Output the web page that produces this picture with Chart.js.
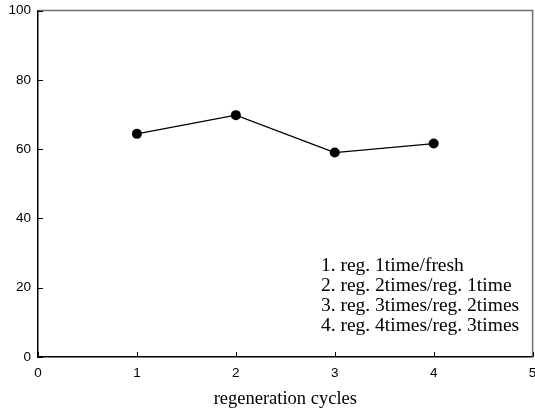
<!DOCTYPE html>
<html>
<head>
<meta charset="utf-8">
<script src="https://cdn.jsdelivr.net/npm/chart.js@4/dist/chart.umd.min.js"></script>
<style>
  html, body { margin: 0; padding: 0; background: #fff; }
  #wrap { width: 535px; height: 413px; }
</style>
</head>
<body>
<div id="wrap"><canvas id="chart" width="535" height="413"></canvas></div>
<script>
// data
const cycles = [1, 2, 3, 4];
const ratios = [64.4, 69.8, 59.0, 61.6];
const xTicks = [0, 1, 2, 3, 4, 5];
const yTicks = [0, 20, 40, 60, 80, 100];
const notes = [
  "1. reg. 1time/fresh",
  "2. reg. 2times/reg. 1time",
  "3. reg. 3times/reg. 2times",
  "4. reg. 4times/reg. 3times"
];

const serif = "'Liberation Serif', 'Times New Roman', serif";
const sans = "'Liberation Sans', Arial, sans-serif";

// frame on top/right, inward tick marks, and the note block
const framePlugin = {
  id: 'frame',
  afterDraw(chart) {
    const ctx = chart.ctx;
    const a = chart.chartArea;
    const xs = chart.scales.x, ys = chart.scales.y;
    ctx.save();
    ctx.strokeStyle = '#6e6e6e';
    ctx.lineWidth = 1.5;
    ctx.beginPath();
    ctx.moveTo(a.left, a.top);
    ctx.lineTo(a.right, a.top);
    ctx.lineTo(a.right, a.bottom);
    ctx.stroke();

    ctx.strokeStyle = '#000';
    ctx.lineWidth = 1;
    xs.ticks.forEach((t, i) => {
      const px = Math.round(xs.getPixelForTick(i)) + 0.5;
      ctx.beginPath();
      ctx.moveTo(px, a.bottom);
      ctx.lineTo(px, a.bottom - 5);
      ctx.stroke();
    });
    ys.ticks.forEach((t, i) => {
      const py = Math.round(ys.getPixelForTick(i)) + 0.5;
      ctx.beginPath();
      ctx.moveTo(a.left, py);
      ctx.lineTo(a.left + 5, py);
      ctx.stroke();
    });

    ctx.fillStyle = '#000';
    ctx.font = '19.5px ' + serif;
    ctx.textBaseline = 'alphabetic';
    ctx.textAlign = 'left';
    const tx = xs.getPixelForValue(2.86);
    notes.forEach((n, i) => {
      ctx.fillText(n, tx, ys.getPixelForValue(24.7 - i * 5.78));
    });
    ctx.restore();
  }
};

new Chart(document.getElementById('chart'), {
  type: 'scatter',
  data: {
    datasets: [{
      data: cycles.map((c, i) => ({ x: c, y: ratios[i] })),
      showLine: true,
      borderColor: '#000',
      borderWidth: 1.2,
      backgroundColor: '#000',
      pointBackgroundColor: '#000',
      pointBorderColor: '#000',
      pointRadius: 5,
      pointBorderWidth: 0
    }]
  },
  options: {
    responsive: false,
    animation: false,
    events: [],
    layout: { autoPadding: false, padding: { top: 10.5, right: 2.4, left: 0, bottom: 0 } },
    plugins: {
      legend: { display: false },
      tooltip: { enabled: false }
    },
    scales: {
      x: {
        type: 'linear',
        min: 0,
        max: 5,
        afterBuildTicks: s => { s.ticks = xTicks.map(v => ({ value: v })); },
        afterFit: s => { s.height = 56; s.paddingLeft = 0; s.paddingRight = 0; },
        grid: { display: false, drawTicks: false },
        border: { display: true, color: '#000', width: 1.5 },
        ticks: { color: '#000', padding: 8, font: { family: sans, size: 13.5 } },
        title: {
          display: true,
          text: 'regeneration cycles',
          color: '#000',
          font: { family: serif, size: 18.5 },
          padding: { top: 0, bottom: 3 }
        }
      },
      y: {
        min: 0,
        max: 100,
        afterBuildTicks: s => { s.ticks = yTicks.map(v => ({ value: v })); },
        afterFit: s => { s.width = 38; s.paddingTop = 0; s.paddingBottom = 0; },
        grid: { display: false, drawTicks: false },
        border: { display: true, color: '#000', width: 1.5 },
        ticks: { color: '#000', padding: 7, font: { family: sans, size: 13.5 } }
      }
    }
  },
  plugins: [framePlugin]
});
</script>
</body>
</html>
